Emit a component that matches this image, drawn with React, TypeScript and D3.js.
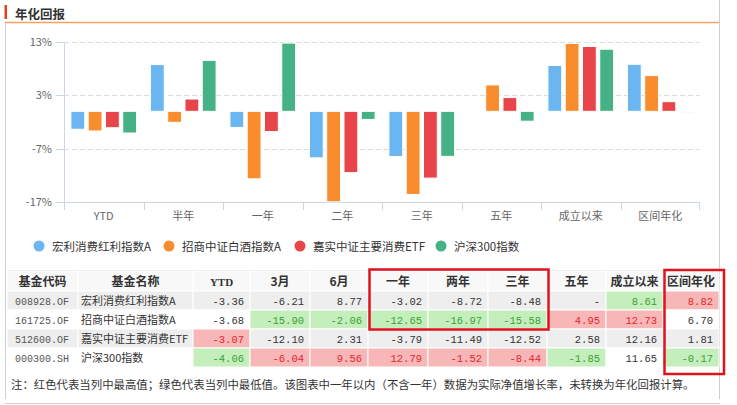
import React from 'react';
import * as d3 from 'd3';

// chart categories and series
const categories = ['YTD', '半年', '一年', '二年', '三年', '五年', '成立以来', '区间年化'];
const seriesNames = ['宏利消费红利指数A', '招商中证白酒指数A', '嘉实中证主要消费ETF', '沪深300指数'];
const seriesColors = ['#6bb6f1', '#f98c2c', '#e8454b', '#46b184'];

// table
const tableHeaders = ['基金代码', '基金名称', 'YTD', '3月', '6月', '一年', '两年', '三年', '五年', '成立以来', '区间年化'];
const fundCodes = ['008928.OF', '161725.OF', '512600.OF', '000300.SH'];
const fundReturns: (number | null)[][] = [
  [-3.36, -6.21, 8.77, -3.02, -8.72, -8.48, null, 8.61, 8.82],
  [-3.68, -15.90, -2.06, -12.65, -16.97, -15.58, 4.95, 12.73, 6.70],
  [-3.07, -12.10, 2.31, -3.79, -11.49, -12.52, 2.58, 12.16, 1.81],
  [-4.06, -6.04, 9.56, 12.79, -1.52, -8.44, -1.85, 11.65, -0.17],
];
// which table return column feeds each chart category
const chartColumns = [0, 2, 3, 4, 5, 6, 7, 8];
const yTicks = [13, 3, -7, -17];
const note = '注：红色代表当列中最高值；绿色代表当列中最低值。该图表中一年以内（不含一年）数据为实际净值增长率，未转换为年化回报计算。';

const CJK = '"Noto Sans CJK SC", "Noto Sans", sans-serif';
const MONO = '"Liberation Mono", "DejaVu Sans Mono", monospace';

const colEdges = [7, 78, 193, 250, 310, 368, 428, 488, 547, 606, 663, 719];
const rowEdges = [271, 291, 310, 329, 348, 367];

const App: React.FC = () => {
  const y = d3.scaleLinear().domain([-17, 13]).range([202, 42]);
  const x0 = d3.scaleBand<string>().domain(categories).range([64, 700]);
  const x1 = d3.scaleBand<string>().domain(seriesNames).range([0, x0.bandwidth()]).paddingInner(0.2).paddingOuter(0.4);
  const legendX = [39, 169, 300, 441];

  // max / min per return column
  const colMax = fundReturns[0].map((_, j) => d3.max(fundReturns, r => r[j] ?? undefined));
  const colMin = fundReturns[0].map((_, j) => d3.min(fundReturns, r => r[j] ?? undefined));

  return (
    <div style={{ position: 'absolute', left: 0, top: 0 }}>
      <svg width={737} height={405} style={{ display: 'block', background: '#fff' }}>
        {/* frame + title */}
        <line x1={5.5} x2={5.5} y1={23} y2={399} stroke="#cfcfcf" />
        <line x1={719.5} x2={719.5} y1={0} y2={399} stroke="#cfcfcf" />
        <line x1={5} x2={720} y1={403.5} y2={403.5} stroke="#cfcfcf" />
        <rect x={4.5} y={5} width={2.5} height={14} fill="#e2401f" />
        <text x={15} y={19} fontFamily={CJK} fontSize={12.5} fontWeight="bold" fill="#333">年化回报</text>
        <line x1={5} x2={719} y1={22.5} y2={22.5} stroke="#f7a262" strokeWidth={1.5} />

        {/* grid + y axis */}
        {yTicks.map(t => (
          <g key={t}>
            {t !== -17 && <line x1={64} x2={700} y1={Math.round(y(t)) + 0.5} y2={Math.round(y(t)) + 0.5} stroke="#dcdcdc" strokeDasharray="5,3" />}
            <line x1={56} x2={64} y1={Math.round(y(t)) + 0.5} y2={Math.round(y(t)) + 0.5} stroke="#ccd6eb" />
            <text x={52} y={y(t) + 4} textAnchor="end" fontFamily={CJK} fontSize={11} fill="#666">{t}%</text>
          </g>
        ))}
        <line x1={64.5} x2={64.5} y1={42} y2={202} stroke="#ccd6eb" />
        <line x1={64} x2={700} y1={202.5} y2={202.5} stroke="#ccd6eb" />
        {categories.map(c => (
          <line key={'t' + c} x1={Math.round(x0(c)!) + 0.5} x2={Math.round(x0(c)!) + 0.5} y1={202} y2={210} stroke="#ccd6eb" />
        ))}
        <line x1={699.5} x2={699.5} y1={202} y2={210} stroke="#ccd6eb" />
        {categories.map(c => (
          <text key={'l' + c} x={x0(c)! + x0.bandwidth() / 2} y={220} textAnchor="middle" fontFamily={CJK} fontSize={11} fill="#666">{c}</text>
        ))}

        {/* bars */}
        {categories.map((c, i) => seriesNames.map((s, k) => {
          const v = fundReturns[k][chartColumns[i]];
          if (v == null) return null;
          const y0 = y(0), yv = y(v);
          return (
            <rect key={c + s} x={x0(c)! + x1(s)!} y={Math.min(y0, yv)} width={x1.bandwidth()} height={Math.abs(yv - y0)}
              fill={seriesColors[k]} stroke="#fff" strokeWidth={1} />
          );
        }))}

        {/* legend */}
        {seriesNames.map((s, k) => (
          <g key={'lg' + s}>
            <circle cx={legendX[k]} cy={246} r={5.5} fill={seriesColors[k]} />
            <text x={legendX[k] + 13} y={250.5} fontFamily={CJK} fontSize={11.5} fill="#333">{s}</text>
          </g>
        ))}

        {/* table */}
        <line x1={7} x2={719} y1={270.5} y2={270.5} stroke="#dddddd" />
        {tableHeaders.map((h, j) => (
          <g key={'h' + h}>
            <rect x={colEdges[j]} y={rowEdges[0]} width={colEdges[j + 1] - colEdges[j]} height={rowEdges[1] - rowEdges[0]} fill="#f8f8f8" stroke="#fff" />
            <text x={(colEdges[j] + colEdges[j + 1]) / 2} y={rowEdges[0] + 14.5} textAnchor="middle"
              fontFamily={h === 'YTD' ? '"Liberation Serif", serif' : CJK} fontSize={h === 'YTD' ? 11 : 12} fontWeight="bold" fill="#333">{h}</text>
          </g>
        ))}
        {fundCodes.map((code, i) => {
          const top = rowEdges[i + 1], h = rowEdges[i + 2] - top;
          const rowBg = i % 2 === 0 ? '#eeeeee' : '#ffffff';
          return (
            <g key={code}>
              <rect x={colEdges[0]} y={top} width={colEdges[1] - colEdges[0]} height={h} fill={rowBg} stroke="#fff" />
              <text x={colEdges[0] + 8} y={top + 13.5} fontFamily={MONO} fontSize={10} fill="#555">{code}</text>
              <rect x={colEdges[1]} y={top} width={colEdges[2] - colEdges[1]} height={h} fill={rowBg} stroke="#fff" />
              <text x={colEdges[1] + 3} y={top + 14} fontFamily={CJK} fontSize={11} fill="#333">{seriesNames[i]}</text>
              {fundReturns[i].map((v, j) => {
                const isMax = v != null && v === colMax[j];
                const isMin = v != null && v === colMin[j];
                const bg = isMax ? '#f7b7b7' : isMin ? '#c4efbc' : rowBg;
                const fg = isMax ? '#e3262d' : isMin ? '#3c9e36' : '#333';
                const cx0 = colEdges[j + 2], cx1 = colEdges[j + 3];
                return (
                  <g key={j}>
                    <rect x={cx0} y={top} width={cx1 - cx0} height={h} fill={bg} stroke="#fff" />
                    <text x={cx1 - 6} y={top + 13.5} textAnchor="end" fontFamily={MONO} fontSize={10.5} fill={fg}>
                      {v == null ? '-' : v.toFixed(2)}
                    </text>
                  </g>
                );
              })}
            </g>
          );
        })}

        {/* highlight boxes */}
        <rect x={369.5} y={269.5} width={179} height={60} fill="none" stroke="#e0121d" strokeWidth={2.5} />
        <rect x={664.5} y={270} width={59.5} height={104} fill="none" stroke="#e0121d" strokeWidth={2.5} />

        <text x={11} y={389} fontFamily={CJK} fontSize={11.4} fill="#333">{note}</text>
      </svg>
    </div>
  );
};

export default App;
